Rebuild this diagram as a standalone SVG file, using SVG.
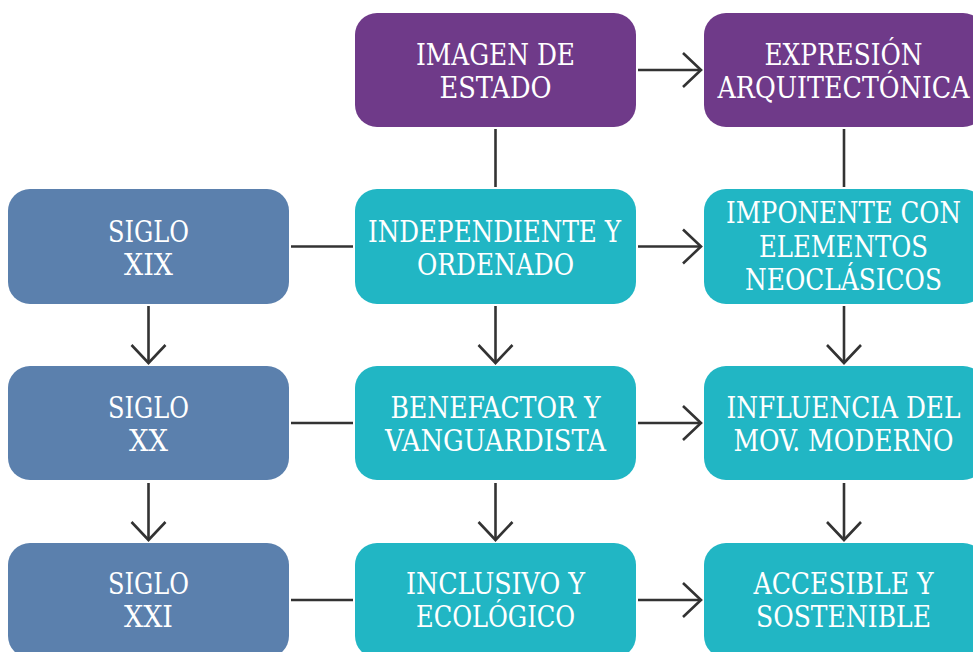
<svg xmlns="http://www.w3.org/2000/svg" width="973" height="652" viewBox="0 0 973 652">
<defs>
<marker id="chev" markerUnits="userSpaceOnUse" markerWidth="40" markerHeight="40" viewBox="-20 -20 40 40" refX="0" refY="0" orient="auto" overflow="visible">
<path d="M-18,-17 L0,0 L-18,17" fill="none" stroke="#333333" stroke-width="2.6" stroke-linejoin="miter"/>
</marker>
<style>
.purple{fill:#6F3A89}
.blue{fill:#5B80AD}
.teal{fill:#21B6C4}
.lbl{font-family:"DejaVu Serif","Liberation Serif",serif;font-stretch:condensed;font-size:29px;fill:#ffffff;text-anchor:middle}
.con{stroke:#333333;stroke-width:2.6;fill:none}
.arr{marker-end:url(#chev)}
</style>
</defs>
<rect width="973" height="652" fill="#ffffff"/>

<g id="connectors">
<line class="con arr" x1="638" y1="70" x2="701" y2="70"/>
<line class="con" x1="495.5" y1="129" x2="495.5" y2="187"/>
<line class="con" x1="844" y1="129" x2="844" y2="187"/>
<line class="con" x1="291" y1="246.5" x2="353" y2="246.5"/>
<line class="con arr" x1="638" y1="246.5" x2="701" y2="246.5"/>
<line class="con" x1="291" y1="423" x2="353" y2="423"/>
<line class="con arr" x1="638" y1="423" x2="701" y2="423"/>
<line class="con" x1="291" y1="600" x2="353" y2="600"/>
<line class="con arr" x1="638" y1="600" x2="701" y2="600"/>
<line class="con arr" x1="148.5" y1="306" x2="148.5" y2="363"/>
<line class="con arr" x1="495.5" y1="306" x2="495.5" y2="363"/>
<line class="con arr" x1="844" y1="306" x2="844" y2="363"/>
<line class="con arr" x1="148.5" y1="483" x2="148.5" y2="540"/>
<line class="con arr" x1="495.5" y1="483" x2="495.5" y2="540"/>
<line class="con arr" x1="844" y1="483" x2="844" y2="540"/>
</g>

<g id="imagen-estado">
<rect class="purple" x="355" y="13" width="281" height="114" rx="22"/>
<text class="lbl" x="495.5" y="64.5" textLength="159" lengthAdjust="spacingAndGlyphs">IMAGEN DE</text>
<text class="lbl" x="495.5" y="97.5" textLength="112" lengthAdjust="spacingAndGlyphs">ESTADO</text>
</g>
<g id="expresion">
<rect class="purple" x="704" y="13" width="281" height="114" rx="22"/>
<text class="lbl" x="843.5" y="64.5" textLength="158" lengthAdjust="spacingAndGlyphs">EXPRESIÓN</text>
<text class="lbl" x="843.5" y="97.5" textLength="252" lengthAdjust="spacingAndGlyphs">ARQUITECTÓNICA</text>
</g>

<g id="siglo-xix">
<rect class="blue" x="8" y="189" width="281" height="115" rx="22"/>
<text class="lbl" x="148.5" y="241.5" textLength="81" lengthAdjust="spacingAndGlyphs">SIGLO</text>
<text class="lbl" x="148.5" y="274.5" textLength="49" lengthAdjust="spacingAndGlyphs">XIX</text>
</g>
<g id="independiente">
<rect class="teal" x="355" y="189" width="281" height="115" rx="22"/>
<text class="lbl" x="494.5" y="241.5" textLength="253" lengthAdjust="spacingAndGlyphs">INDEPENDIENTE Y</text>
<text class="lbl" x="495.5" y="274.5" textLength="157" lengthAdjust="spacingAndGlyphs">ORDENADO</text>
</g>
<g id="imponente">
<rect class="teal" x="704" y="189" width="281" height="115" rx="22"/>
<text class="lbl" x="843.5" y="223.3" textLength="235" lengthAdjust="spacingAndGlyphs">IMPONENTE CON</text>
<text class="lbl" x="843.5" y="256.7" textLength="169" lengthAdjust="spacingAndGlyphs">ELEMENTOS</text>
<text class="lbl" x="843.5" y="290" textLength="197" lengthAdjust="spacingAndGlyphs">NEOCLÁSICOS</text>
</g>

<g id="siglo-xx">
<rect class="blue" x="8" y="366" width="281" height="114" rx="22"/>
<text class="lbl" x="148.5" y="417.5" textLength="81" lengthAdjust="spacingAndGlyphs">SIGLO</text>
<text class="lbl" x="148.5" y="450.5" textLength="39" lengthAdjust="spacingAndGlyphs">XX</text>
</g>
<g id="benefactor">
<rect class="teal" x="355" y="366" width="281" height="114" rx="22"/>
<text class="lbl" x="495.5" y="417.5" textLength="210" lengthAdjust="spacingAndGlyphs">BENEFACTOR Y</text>
<text class="lbl" x="495.5" y="450.5" textLength="221" lengthAdjust="spacingAndGlyphs">VANGUARDISTA</text>
</g>
<g id="influencia">
<rect class="teal" x="704" y="366" width="281" height="114" rx="22"/>
<text class="lbl" x="843.5" y="417.5" textLength="234" lengthAdjust="spacingAndGlyphs">INFLUENCIA DEL</text>
<text class="lbl" x="843.5" y="450.5" textLength="220" lengthAdjust="spacingAndGlyphs">MOV. MODERNO</text>
</g>

<g id="siglo-xxi">
<rect class="blue" x="8" y="543" width="281" height="115" rx="22"/>
<text class="lbl" x="148.5" y="594" textLength="81" lengthAdjust="spacingAndGlyphs">SIGLO</text>
<text class="lbl" x="148.5" y="627" textLength="49" lengthAdjust="spacingAndGlyphs">XXI</text>
</g>
<g id="inclusivo">
<rect class="teal" x="355" y="543" width="281" height="115" rx="22"/>
<text class="lbl" x="495.5" y="594" textLength="179" lengthAdjust="spacingAndGlyphs">INCLUSIVO Y</text>
<text class="lbl" x="495.5" y="627" textLength="159" lengthAdjust="spacingAndGlyphs">ECOLÓGICO</text>
</g>
<g id="accesible">
<rect class="teal" x="704" y="543" width="281" height="115" rx="22"/>
<text class="lbl" x="843.5" y="594" textLength="180" lengthAdjust="spacingAndGlyphs">ACCESIBLE Y</text>
<text class="lbl" x="843.5" y="627" textLength="175" lengthAdjust="spacingAndGlyphs">SOSTENIBLE</text>
</g>
</svg>
